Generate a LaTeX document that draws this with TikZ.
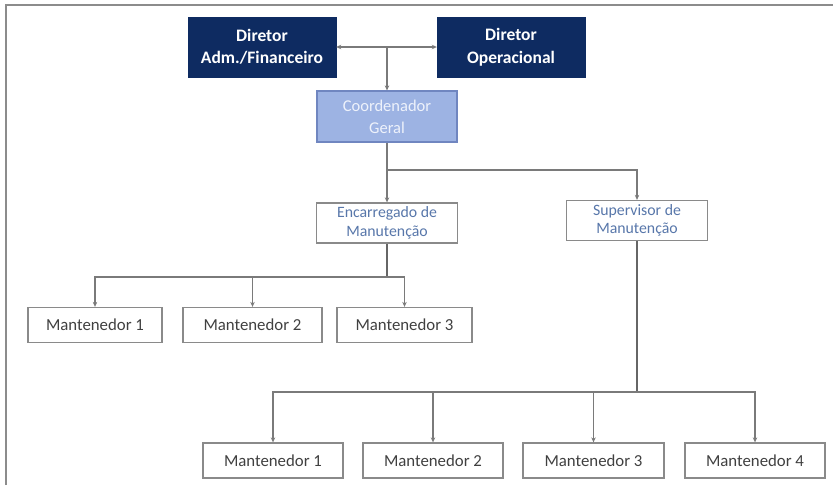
\documentclass[tikz,border=0pt]{standalone}
\usepackage{fontspec}
\setmainfont{Carlito}
\usetikzlibrary{arrows.meta}
\definecolor{navy}{HTML}{0E2B61}
\definecolor{coordfill}{HTML}{9DB3E3}
\definecolor{coordline}{HTML}{7086C0}
\definecolor{coordtext}{HTML}{EEF2FB}
\definecolor{bluetext}{HTML}{5877AA}
\definecolor{boxline}{HTML}{8A8A8A}
\definecolor{conn}{HTML}{7A7A7A}
\definecolor{frame}{HTML}{8C8C8C}
\begin{document}
\begin{tikzpicture}[x=1pt,y=-1pt,
  dirbox/.style={draw=navy,fill=navy,text=white,font=\fontsize{17.5}{22.5}\selectfont\bfseries,align=center,inner sep=0pt,minimum width=148pt,minimum height=60pt},
  coordbox/.style={draw=coordline,line width=1.2pt,fill=coordfill,text=coordtext,font=\fontsize{16.5}{22}\selectfont,align=center,inner sep=0pt,minimum width=140pt,minimum height=51pt},
  midbox/.style={draw=boxline,line width=1.3pt,fill=white,text=bluetext,font=\fontsize{15.8}{18.5}\selectfont,align=center,inner sep=0pt,minimum width=141pt,minimum height=40pt},
  leafbox/.style={draw=boxline,line width=1.3pt,fill=white,text=black!75,font=\fontsize{16.8}{18}\selectfont,inner sep=0pt,minimum height=35pt},
  link/.style={draw=conn,line width=1.3pt},
  trunk/.style={draw=black!60,line width=1.8pt},
  arr/.style={-{Stealth[length=5pt,width=4.5pt]}}
]
\useasboundingbox (0,0) rectangle (833,485);
\fill[white] (0,0) rectangle (833,485);
\draw[frame,line width=2pt] (6,485) -- (6,5) -- (833,5);

\node[dirbox] (dadm) at (262,47) {Diretor\\Adm./Financeiro};
\node[dirbox] (dop) at (511,47) {Diretor\\Operacional};
\node[coordbox] (coord) at (387,116.5) {Coordenador\\Geral};
\node[midbox] (enc) at (387,223) {Encarregado de\\Manutenção};
\node[midbox] (sup) at (637,220.5) {Supervisor de\\Manutenção};

\node[leafbox,minimum width=134pt] (m1a) at (95,325) {Mantenedor 1};
\node[leafbox,minimum width=139pt] (m1b) at (252.5,325) {Mantenedor 2};
\node[leafbox,minimum width=135pt] (m1c) at (404.5,325) {Mantenedor 3};

\node[leafbox,minimum width=140pt] (m2a) at (273,460.5) {Mantenedor 1};
\node[leafbox,minimum width=140pt] (m2b) at (433,460.5) {Mantenedor 2};
\node[leafbox,minimum width=141pt] (m2c) at (593.5,460.5) {Mantenedor 3};
\node[leafbox,minimum width=140pt] (m2d) at (755,460.5) {Mantenedor 4};

\coordinate (j0) at (387,47);
\coordinate (j1) at (387,170);
\coordinate (j2) at (387,277);
\coordinate (j3) at (637,392);

% top
\draw[link,{Stealth[length=5pt,width=4.5pt]}-{Stealth[length=5pt,width=4.5pt]}] (dadm.east) -- (dop.west);
\draw[link,arr] (j0) -- (coord.north);

% coordinator split
\draw[link] (coord.south) -- (j1);
\draw[link,arr] (j1) -- (enc.north);
\draw[link,arr] (j1) -| (sup.north);

% encarregado
\draw[trunk] (enc.south) -- (j2);
\draw[link,arr] (j2) -| (m1a.north);
\draw[link,arr] (j2) -| (m1c.north);
\draw[link,arr] (m1b.north |- j2) -- (m1b.north);

% supervisor
\draw[trunk] (sup.south) -- (j3);
\draw[link,arr] (j3) -| (m2a.north);
\draw[link,arr] (j3) -| (m2d.north);
\draw[link,arr] (m2b.north |- j3) -- (m2b.north);
\draw[link,arr] (m2c.north |- j3) -- (m2c.north);
\end{tikzpicture}
\end{document}
